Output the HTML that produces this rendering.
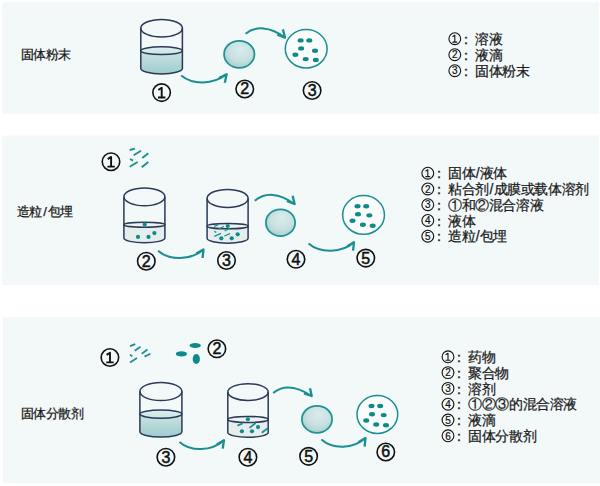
<!DOCTYPE html><html><head><meta charset="utf-8"><style>html,body{margin:0;padding:0;background:#fff;overflow:hidden}svg{display:block;font-family:"Liberation Sans",sans-serif;}</style></head><body>
<svg width="600" height="486" viewBox="0 0 600 486">
<defs>
<linearGradient id="liq" x1="0" y1="0" x2="0" y2="1"><stop offset="0" stop-color="#cce4e4"/><stop offset="1" stop-color="#9ecccd"/></linearGradient>
<linearGradient id="surf" x1="0" y1="0" x2="0" y2="1"><stop offset="0" stop-color="#dcefef"/><stop offset="1" stop-color="#cce5e5"/></linearGradient>
<radialGradient id="drop" cx="0.55" cy="0.4" r="0.65" fx="0.55" fy="0.3"><stop offset="0" stop-color="#daeced"/><stop offset="0.6" stop-color="#c8e0e1"/><stop offset="1" stop-color="#a5cdcf"/></radialGradient>
</defs>
<rect x="2.3" y="2.3" width="596.7" height="111.5" fill="#f3f8f9"/>
<rect x="2.3" y="135.5" width="596.7" height="149.5" fill="#f3f8f9"/>
<rect x="2.8" y="317.3" width="597.2" height="166" fill="#f3f8f9"/>
<text x="20.8" y="58.5" letter-spacing="-0.5" font-size="13" fill="#1a1a1a" stroke="#1a1a1a" stroke-width="0.25">固体粉末</text>
<path d="M140.8,50.7 L140.8,68.6 A20.8,5.3 0 0 0 182.4,68.6 L182.4,50.7 Z" fill="url(#liq)"/>
<ellipse cx="161.6" cy="50.7" rx="20.8" ry="3.9" fill="url(#surf)"/>
<g fill="none" stroke="#2b3a57" stroke-width="1.5">
<ellipse cx="161.6" cy="28.2" rx="20.8" ry="8.8"/>
<path d="M140.8,28.2 L140.8,68.6 A20.8,5.3 0 0 0 182.4,68.6 L182.4,28.2"/>
<ellipse cx="161.6" cy="50.7" rx="20.8" ry="3.9"/>
</g>
<ellipse cx="239.25" cy="54.3" rx="15.2" ry="13.5" fill="url(#drop)" stroke="#1f9394" stroke-width="1.75"/>
<ellipse cx="306.2" cy="48.8" rx="20.9" ry="19.2" fill="#fafcfc" stroke="#1a8f90" stroke-width="1.5"/>
<ellipse cx="300.6" cy="40.4" rx="3.0" ry="2.2" fill="#0f8a8b"/>
<ellipse cx="309.3" cy="40.4" rx="3.0" ry="2.2" fill="#0f8a8b"/>
<ellipse cx="301.1" cy="48.4" rx="3.0" ry="2.2" fill="#0f8a8b"/>
<ellipse cx="315" cy="50.7" rx="3.0" ry="2.2" fill="#0f8a8b"/>
<ellipse cx="295.4" cy="54.8" rx="3.0" ry="2.2" fill="#0f8a8b"/>
<ellipse cx="305.7" cy="59.1" rx="3.0" ry="2.2" fill="#0f8a8b"/>
<ellipse cx="315.8" cy="60" rx="3.0" ry="2.2" fill="#0f8a8b"/>
<path d="M181.2,75.5 C192.55,84.9 212.85,84.9 226.6,74.3" fill="none" stroke="#1a8f90" stroke-width="2.0" stroke-linecap="butt"/>
<path d="M219,78.15 L226.6,74.3 L224.8,82.65" fill="none" stroke="#1a8f90" stroke-width="2.3" stroke-linecap="butt" stroke-linejoin="round"/>
<path d="M245.6,33.7 C255.45,25.98 270.08,25.98 285,37.6" fill="none" stroke="#1a8f90" stroke-width="2.0" stroke-linecap="butt"/>
<path d="M277.3,34.6 L285,37.6 L282.9,29.4" fill="none" stroke="#1a8f90" stroke-width="2.3" stroke-linecap="butt" stroke-linejoin="round"/>
<circle cx="161.6" cy="92.6" r="8.75" fill="none" stroke="#111" stroke-width="1.6"/>
<path d="M158,97.5 H165.4 M161.7,97.5 V87.8 L158.3,90" fill="none" stroke="#111" stroke-width="1.9" stroke-linejoin="round"/>
<circle cx="244.75" cy="89" r="8.75" fill="none" stroke="#111" stroke-width="1.6"/>
<text x="244.75" y="94.4" text-anchor="middle" font-size="16" fill="#111" stroke="#111" stroke-width="0.5">2</text>
<circle cx="312.1" cy="90.45" r="8.75" fill="none" stroke="#111" stroke-width="1.6"/>
<text x="312.1" y="95.85" text-anchor="middle" font-size="16" fill="#111" stroke="#111" stroke-width="0.5">3</text>
<circle cx="454.8" cy="38.7" r="5.9" fill="none" stroke="#111" stroke-width="1.1"/>
<path d="M452.4,42.1 H457.2 M454.8,42.1 V35.1 L452.5,36.7" fill="none" stroke="#111" stroke-width="1.1" stroke-linejoin="round"/>
<text y="43.8" letter-spacing="-0.4" font-size="14" fill="#1a1a1a" stroke="#1a1a1a" stroke-width="0.25"><tspan x="458.9">：</tspan><tspan x="475">溶液</tspan></text>
<circle cx="454.8" cy="54.7" r="5.9" fill="none" stroke="#111" stroke-width="1.1"/>
<text x="454.8" y="58.4" text-anchor="middle" font-size="10" fill="#111" stroke="#111" stroke-width="0.2">2</text>
<text y="59.8" letter-spacing="-0.4" font-size="14" fill="#1a1a1a" stroke="#1a1a1a" stroke-width="0.25"><tspan x="458.9">：</tspan><tspan x="475">液滴</tspan></text>
<circle cx="454.8" cy="70.7" r="5.9" fill="none" stroke="#111" stroke-width="1.1"/>
<text x="454.8" y="74.4" text-anchor="middle" font-size="10" fill="#111" stroke="#111" stroke-width="0.2">3</text>
<text y="75.8" letter-spacing="-0.4" font-size="14" fill="#1a1a1a" stroke="#1a1a1a" stroke-width="0.25"><tspan x="458.9">：</tspan><tspan x="475">固体粉末</tspan></text>
<text x="16.8" y="216.3" letter-spacing="-0.3" font-size="13" fill="#1a1a1a" stroke="#1a1a1a" stroke-width="0.25">造粒<tspan dx="1">/</tspan><tspan dx="1">包埋</tspan></text>
<circle cx="111" cy="161.7" r="8.75" fill="none" stroke="#111" stroke-width="1.6"/>
<path d="M107.4,166.6 H114.8 M111.1,166.6 V156.9 L107.7,159.1" fill="none" stroke="#111" stroke-width="1.9" stroke-linejoin="round"/>
<line x1="129.7" y1="150" x2="135" y2="148.7" stroke="#1a8f90" stroke-width="1.9" stroke-linecap="butt"/>
<line x1="133.7" y1="155.3" x2="141" y2="150.7" stroke="#1a8f90" stroke-width="1.9" stroke-linecap="butt"/>
<line x1="142.3" y1="158" x2="148.3" y2="153.3" stroke="#1a8f90" stroke-width="1.9" stroke-linecap="butt"/>
<line x1="130" y1="159" x2="133" y2="160.7" stroke="#1a8f90" stroke-width="1.9" stroke-linecap="butt"/>
<line x1="129.7" y1="166.7" x2="137.7" y2="162" stroke="#1a8f90" stroke-width="1.9" stroke-linecap="butt"/>
<line x1="141.7" y1="167.3" x2="148.3" y2="162" stroke="#1a8f90" stroke-width="1.9" stroke-linecap="butt"/>
<path d="M123.9,224.8 L123.9,238 A20.5,4.8 0 0 0 164.9,238 L164.9,224.8 Z" fill="#e5eded"/>
<ellipse cx="144.4" cy="224.8" rx="20.5" ry="2.5" fill="#edf3f3"/>
<g fill="none" stroke="#2b3a57" stroke-width="1.5">
<ellipse cx="144.4" cy="196.8" rx="20.5" ry="8.9"/>
<path d="M123.9,196.8 L123.9,238 A20.5,4.8 0 0 0 164.9,238 L164.9,196.8"/>
<ellipse cx="144.4" cy="224.8" rx="20.5" ry="2.5"/>
</g>
<circle cx="144.7" cy="224.4" r="2.1" fill="#0f8a8b"/>
<circle cx="138" cy="236.9" r="2.1" fill="#0f8a8b"/>
<circle cx="148.5" cy="236.9" r="2.1" fill="#0f8a8b"/>
<circle cx="154.4" cy="233.1" r="2.1" fill="#0f8a8b"/>
<path d="M207.1,226.2 L207.1,238.3 A20.5,4.9 0 0 0 248.1,238.3 L248.1,226.2 Z" fill="#e5eded"/>
<ellipse cx="227.6" cy="226.2" rx="20.5" ry="2.6" fill="#edf3f3"/>
<g fill="none" stroke="#2b3a57" stroke-width="1.5">
<ellipse cx="227.6" cy="198.4" rx="20.5" ry="9"/>
<path d="M207.1,198.4 L207.1,238.3 A20.5,4.9 0 0 0 248.1,238.3 L248.1,198.4"/>
<ellipse cx="227.6" cy="226.2" rx="20.5" ry="2.6"/>
</g>
<circle cx="227.7" cy="226" r="2.1" fill="#0f8a8b"/>
<circle cx="237.7" cy="234.3" r="2.1" fill="#0f8a8b"/>
<circle cx="221.3" cy="238.3" r="2.1" fill="#0f8a8b"/>
<circle cx="231.7" cy="238.3" r="2.1" fill="#0f8a8b"/>
<line x1="214" y1="226.3" x2="218.3" y2="225" stroke="#1a8f90" stroke-width="1.3" stroke-linecap="butt"/>
<line x1="219" y1="229" x2="223.7" y2="226.3" stroke="#1a8f90" stroke-width="1.3" stroke-linecap="butt"/>
<line x1="224.7" y1="231" x2="229.7" y2="228.3" stroke="#1a8f90" stroke-width="1.3" stroke-linecap="butt"/>
<line x1="214.3" y1="231.3" x2="216.3" y2="232.3" stroke="#1a8f90" stroke-width="1.3" stroke-linecap="butt"/>
<line x1="214.3" y1="236.3" x2="221" y2="233.3" stroke="#1a8f90" stroke-width="1.3" stroke-linecap="butt"/>
<line x1="224.3" y1="236" x2="230" y2="233.7" stroke="#1a8f90" stroke-width="1.3" stroke-linecap="butt"/>
<path d="M158,250.8 C169.38,260.62 190.39,260.62 203.5,249.45" fill="none" stroke="#1a8f90" stroke-width="2.0" stroke-linecap="butt"/>
<path d="M196.3,253.5 L203.5,249.45 L202.6,258" fill="none" stroke="#1a8f90" stroke-width="2.3" stroke-linecap="butt" stroke-linejoin="round"/>
<ellipse cx="280.5" cy="222.7" rx="14.6" ry="13.4" fill="url(#drop)" stroke="#1f9394" stroke-width="1.75"/>
<path d="M254.8,200.8 C264.75,192.4 278.78,192.4 294.6,204" fill="none" stroke="#1a8f90" stroke-width="2.0" stroke-linecap="butt"/>
<path d="M286.8,201 L294.6,204 L292.6,195.8" fill="none" stroke="#1a8f90" stroke-width="2.3" stroke-linecap="butt" stroke-linejoin="round"/>
<ellipse cx="363.55" cy="214.9" rx="20.9" ry="19.4" fill="#fafcfc" stroke="#1a8f90" stroke-width="1.5"/>
<ellipse cx="357.5" cy="206.25" rx="3.0" ry="2.2" fill="#0f8a8b"/>
<ellipse cx="366.2" cy="206.25" rx="3.0" ry="2.2" fill="#0f8a8b"/>
<ellipse cx="358" cy="214.3" rx="3.0" ry="2.2" fill="#0f8a8b"/>
<ellipse cx="369.4" cy="215.35" rx="3.0" ry="2.2" fill="#0f8a8b"/>
<ellipse cx="352.5" cy="220.8" rx="3.0" ry="2.2" fill="#0f8a8b"/>
<ellipse cx="362.9" cy="224.7" rx="3.0" ry="2.2" fill="#0f8a8b"/>
<ellipse cx="372.7" cy="225.75" rx="3.0" ry="2.2" fill="#0f8a8b"/>
<path d="M308.5,243.45 C319.88,253.24 341.96,253.24 354,242.3" fill="none" stroke="#1a8f90" stroke-width="2.0" stroke-linecap="butt"/>
<path d="M347.2,246.15 L354,242.3 L353,250.65" fill="none" stroke="#1a8f90" stroke-width="2.3" stroke-linecap="butt" stroke-linejoin="round"/>
<circle cx="146.3" cy="261.2" r="8.75" fill="none" stroke="#111" stroke-width="1.6"/>
<text x="146.3" y="266.6" text-anchor="middle" font-size="16" fill="#111" stroke="#111" stroke-width="0.5">2</text>
<circle cx="226.5" cy="260.5" r="8.75" fill="none" stroke="#111" stroke-width="1.6"/>
<text x="226.5" y="265.9" text-anchor="middle" font-size="16" fill="#111" stroke="#111" stroke-width="0.5">3</text>
<circle cx="296" cy="259.3" r="8.75" fill="none" stroke="#111" stroke-width="1.6"/>
<text x="296" y="264.7" text-anchor="middle" font-size="16" fill="#111" stroke="#111" stroke-width="0.5">4</text>
<circle cx="365.8" cy="258.1" r="8.75" fill="none" stroke="#111" stroke-width="1.6"/>
<text x="365.8" y="263.5" text-anchor="middle" font-size="16" fill="#111" stroke="#111" stroke-width="0.5">5</text>
<circle cx="427.8" cy="173.2" r="5.9" fill="none" stroke="#111" stroke-width="1.1"/>
<path d="M425.4,176.6 H430.2 M427.8,176.6 V169.6 L425.5,171.2" fill="none" stroke="#111" stroke-width="1.1" stroke-linejoin="round"/>
<text y="178.3" letter-spacing="-0.4" font-size="14" fill="#1a1a1a" stroke="#1a1a1a" stroke-width="0.25"><tspan x="431.9">：</tspan><tspan x="448">固体</tspan><tspan dx="0.6">/</tspan><tspan dx="0.6">液体</tspan></text>
<circle cx="427.8" cy="188.95" r="5.9" fill="none" stroke="#111" stroke-width="1.1"/>
<text x="427.8" y="192.65" text-anchor="middle" font-size="10" fill="#111" stroke="#111" stroke-width="0.2">2</text>
<text y="194.05" letter-spacing="-0.4" font-size="14" fill="#1a1a1a" stroke="#1a1a1a" stroke-width="0.25"><tspan x="431.9">：</tspan><tspan x="448">粘合剂</tspan><tspan dx="0.6">/</tspan><tspan dx="0.6">成膜或载体溶剂</tspan></text>
<circle cx="427.8" cy="204.7" r="5.9" fill="none" stroke="#111" stroke-width="1.1"/>
<text x="427.8" y="208.4" text-anchor="middle" font-size="10" fill="#111" stroke="#111" stroke-width="0.2">3</text>
<text y="209.8" letter-spacing="-0.4" font-size="14" fill="#1a1a1a" stroke="#1a1a1a" stroke-width="0.25"><tspan x="431.9">：</tspan><tspan x="448">①和②混合溶液</tspan></text>
<circle cx="427.8" cy="220.45" r="5.9" fill="none" stroke="#111" stroke-width="1.1"/>
<text x="427.8" y="224.15" text-anchor="middle" font-size="10" fill="#111" stroke="#111" stroke-width="0.2">4</text>
<text y="225.55" letter-spacing="-0.4" font-size="14" fill="#1a1a1a" stroke="#1a1a1a" stroke-width="0.25"><tspan x="431.9">：</tspan><tspan x="448">液体</tspan></text>
<circle cx="427.8" cy="236.2" r="5.9" fill="none" stroke="#111" stroke-width="1.1"/>
<text x="427.8" y="239.9" text-anchor="middle" font-size="10" fill="#111" stroke="#111" stroke-width="0.2">5</text>
<text y="241.3" letter-spacing="-0.4" font-size="14" fill="#1a1a1a" stroke="#1a1a1a" stroke-width="0.25"><tspan x="431.9">：</tspan><tspan x="448">造粒</tspan><tspan dx="0.6">/</tspan><tspan dx="0.6">包埋</tspan></text>
<text x="20.8" y="417.8" letter-spacing="-0.45" font-size="13" fill="#1a1a1a" stroke="#1a1a1a" stroke-width="0.25">固体分散剂</text>
<circle cx="109.9" cy="357.5" r="8.75" fill="none" stroke="#111" stroke-width="1.6"/>
<path d="M106.3,362.4 H113.7 M110,362.4 V352.7 L106.6,354.9" fill="none" stroke="#111" stroke-width="1.9" stroke-linejoin="round"/>
<line x1="130" y1="346.1" x2="135.25" y2="344.1" stroke="#1a8f90" stroke-width="1.8" stroke-linecap="butt"/>
<line x1="134.7" y1="350.75" x2="140.5" y2="346.7" stroke="#1a8f90" stroke-width="1.8" stroke-linecap="butt"/>
<line x1="141.7" y1="353.7" x2="147.5" y2="349.6" stroke="#1a8f90" stroke-width="1.8" stroke-linecap="butt"/>
<line x1="130" y1="354.8" x2="132.3" y2="356.2" stroke="#1a8f90" stroke-width="1.8" stroke-linecap="butt"/>
<line x1="130" y1="362.4" x2="137" y2="358.1" stroke="#1a8f90" stroke-width="1.8" stroke-linecap="butt"/>
<line x1="144.6" y1="356.6" x2="150.4" y2="353.7" stroke="#1a8f90" stroke-width="1.8" stroke-linecap="butt"/>
<ellipse cx="195.2" cy="345.6" rx="5.6" ry="2.5" fill="#0f8a8b"/>
<ellipse cx="181.4" cy="353.9" rx="5.6" ry="2.6" fill="#0f8a8b"/>
<ellipse cx="196.3" cy="359" rx="3.6" ry="5" fill="#0f8a8b"/>
<circle cx="216.9" cy="348.8" r="8.75" fill="none" stroke="#111" stroke-width="1.6"/>
<text x="216.9" y="354.2" text-anchor="middle" font-size="16" fill="#111" stroke="#111" stroke-width="0.5">2</text>
<path d="M139.9,414.1 L139.9,431.8 A21,5.3 0 0 0 181.9,431.8 L181.9,414.1 Z" fill="url(#liq)"/>
<ellipse cx="160.9" cy="414.1" rx="21" ry="4.1" fill="url(#surf)"/>
<g fill="none" stroke="#2b3a57" stroke-width="1.5">
<ellipse cx="160.9" cy="391.5" rx="21" ry="9"/>
<path d="M139.9,391.5 L139.9,431.8 A21,5.3 0 0 0 181.9,431.8 L181.9,391.5"/>
<ellipse cx="160.9" cy="414.1" rx="21" ry="4.1"/>
</g>
<path d="M227.8,419.4 L227.8,432.5 A20.2,4.8 0 0 0 268.2,432.5 L268.2,419.4 Z" fill="#e5eded"/>
<ellipse cx="248" cy="419.4" rx="20.2" ry="3" fill="#edf3f3"/>
<g fill="none" stroke="#2b3a57" stroke-width="1.5">
<ellipse cx="248" cy="392.1" rx="20.2" ry="8.4"/>
<path d="M227.8,392.1 L227.8,432.5 A20.2,4.8 0 0 0 268.2,432.5 L268.2,392.1"/>
<ellipse cx="248" cy="419.4" rx="20.2" ry="3"/>
</g>
<circle cx="247.9" cy="419.25" r="2.1" fill="#0f8a8b"/>
<circle cx="258" cy="427.1" r="2.1" fill="#0f8a8b"/>
<circle cx="241.9" cy="431.25" r="2.1" fill="#0f8a8b"/>
<circle cx="252" cy="431.25" r="2.1" fill="#0f8a8b"/>
<line x1="237.4" y1="425.6" x2="242.6" y2="423.4" stroke="#1a8f90" stroke-width="1.7" stroke-linecap="butt"/>
<line x1="249.4" y1="427.9" x2="255.75" y2="423" stroke="#1a8f90" stroke-width="1.7" stroke-linecap="butt"/>
<line x1="261.75" y1="432.75" x2="267.75" y2="428.25" stroke="#1a8f90" stroke-width="1.7" stroke-linecap="butt"/>
<path d="M179.5,441.9 C190.62,451.77 211.14,451.77 224,440.3" fill="none" stroke="#1a8f90" stroke-width="2.0" stroke-linecap="butt"/>
<path d="M216.85,444.6 L224,440.3 L222.7,448.65" fill="none" stroke="#1a8f90" stroke-width="2.3" stroke-linecap="butt" stroke-linejoin="round"/>
<ellipse cx="317" cy="419.3" rx="15.1" ry="13.5" fill="url(#drop)" stroke="#1f9394" stroke-width="1.75"/>
<path d="M273.2,393 C282.84,384.9 294.71,384.9 311.75,396" fill="none" stroke="#1a8f90" stroke-width="2.0" stroke-linecap="butt"/>
<path d="M304,393.4 L311.75,396 L310,388.2" fill="none" stroke="#1a8f90" stroke-width="2.3" stroke-linecap="butt" stroke-linejoin="round"/>
<ellipse cx="377.35" cy="414.45" rx="20.35" ry="18.95" fill="#fafcfc" stroke="#1a8f90" stroke-width="1.5"/>
<ellipse cx="371.5" cy="406" rx="3.0" ry="2.2" fill="#0f8a8b"/>
<ellipse cx="380.2" cy="406" rx="3.0" ry="2.2" fill="#0f8a8b"/>
<ellipse cx="372" cy="414.2" rx="3.0" ry="2.2" fill="#0f8a8b"/>
<ellipse cx="383.7" cy="415.1" rx="3.0" ry="2.2" fill="#0f8a8b"/>
<ellipse cx="366.2" cy="420.5" rx="3.0" ry="2.2" fill="#0f8a8b"/>
<ellipse cx="376.2" cy="424.5" rx="3.0" ry="2.2" fill="#0f8a8b"/>
<ellipse cx="386" cy="425.2" rx="3.0" ry="2.2" fill="#0f8a8b"/>
<path d="M321.4,439.45 C332.42,449.28 353.28,449.28 365.5,438.1" fill="none" stroke="#1a8f90" stroke-width="2.0" stroke-linecap="butt"/>
<path d="M358.3,442.15 L365.5,438.1 L364.6,446.65" fill="none" stroke="#1a8f90" stroke-width="2.3" stroke-linecap="butt" stroke-linejoin="round"/>
<circle cx="165.9" cy="457.2" r="8.75" fill="none" stroke="#111" stroke-width="1.6"/>
<text x="165.9" y="462.6" text-anchor="middle" font-size="16" fill="#111" stroke="#111" stroke-width="0.5">3</text>
<circle cx="247.9" cy="457.2" r="8.75" fill="none" stroke="#111" stroke-width="1.6"/>
<text x="247.9" y="462.6" text-anchor="middle" font-size="16" fill="#111" stroke="#111" stroke-width="0.5">4</text>
<circle cx="308.6" cy="456.35" r="8.75" fill="none" stroke="#111" stroke-width="1.6"/>
<text x="308.6" y="461.75" text-anchor="middle" font-size="16" fill="#111" stroke="#111" stroke-width="0.5">5</text>
<circle cx="385.8" cy="452" r="8.75" fill="none" stroke="#111" stroke-width="1.6"/>
<text x="385.8" y="457.4" text-anchor="middle" font-size="16" fill="#111" stroke="#111" stroke-width="0.5">6</text>
<circle cx="448" cy="356.8" r="5.9" fill="none" stroke="#111" stroke-width="1.1"/>
<path d="M445.6,360.2 H450.4 M448,360.2 V353.2 L445.7,354.8" fill="none" stroke="#111" stroke-width="1.1" stroke-linejoin="round"/>
<text y="361.9" letter-spacing="-0.4" font-size="14" fill="#1a1a1a" stroke="#1a1a1a" stroke-width="0.25"><tspan x="452.1">：</tspan><tspan x="468.2">药物</tspan></text>
<circle cx="448" cy="372.6" r="5.9" fill="none" stroke="#111" stroke-width="1.1"/>
<text x="448" y="376.3" text-anchor="middle" font-size="10" fill="#111" stroke="#111" stroke-width="0.2">2</text>
<text y="377.7" letter-spacing="-0.4" font-size="14" fill="#1a1a1a" stroke="#1a1a1a" stroke-width="0.25"><tspan x="452.1">：</tspan><tspan x="468.2">聚合物</tspan></text>
<circle cx="448" cy="388.4" r="5.9" fill="none" stroke="#111" stroke-width="1.1"/>
<text x="448" y="392.1" text-anchor="middle" font-size="10" fill="#111" stroke="#111" stroke-width="0.2">3</text>
<text y="393.5" letter-spacing="-0.4" font-size="14" fill="#1a1a1a" stroke="#1a1a1a" stroke-width="0.25"><tspan x="452.1">：</tspan><tspan x="468.2">溶剂</tspan></text>
<circle cx="448" cy="404.2" r="5.9" fill="none" stroke="#111" stroke-width="1.1"/>
<text x="448" y="407.9" text-anchor="middle" font-size="10" fill="#111" stroke="#111" stroke-width="0.2">4</text>
<text y="409.3" letter-spacing="-0.4" font-size="14" fill="#1a1a1a" stroke="#1a1a1a" stroke-width="0.25"><tspan x="452.1">：</tspan><tspan x="468.2">①②③的混合溶液</tspan></text>
<circle cx="448" cy="420" r="5.9" fill="none" stroke="#111" stroke-width="1.1"/>
<text x="448" y="423.7" text-anchor="middle" font-size="10" fill="#111" stroke="#111" stroke-width="0.2">5</text>
<text y="425.1" letter-spacing="-0.4" font-size="14" fill="#1a1a1a" stroke="#1a1a1a" stroke-width="0.25"><tspan x="452.1">：</tspan><tspan x="468.2">液滴</tspan></text>
<circle cx="448" cy="435.8" r="5.9" fill="none" stroke="#111" stroke-width="1.1"/>
<text x="448" y="439.5" text-anchor="middle" font-size="10" fill="#111" stroke="#111" stroke-width="0.2">6</text>
<text y="440.9" letter-spacing="-0.4" font-size="14" fill="#1a1a1a" stroke="#1a1a1a" stroke-width="0.25"><tspan x="452.1">：</tspan><tspan x="468.2">固体分散剂</tspan></text>
</svg></body></html>
